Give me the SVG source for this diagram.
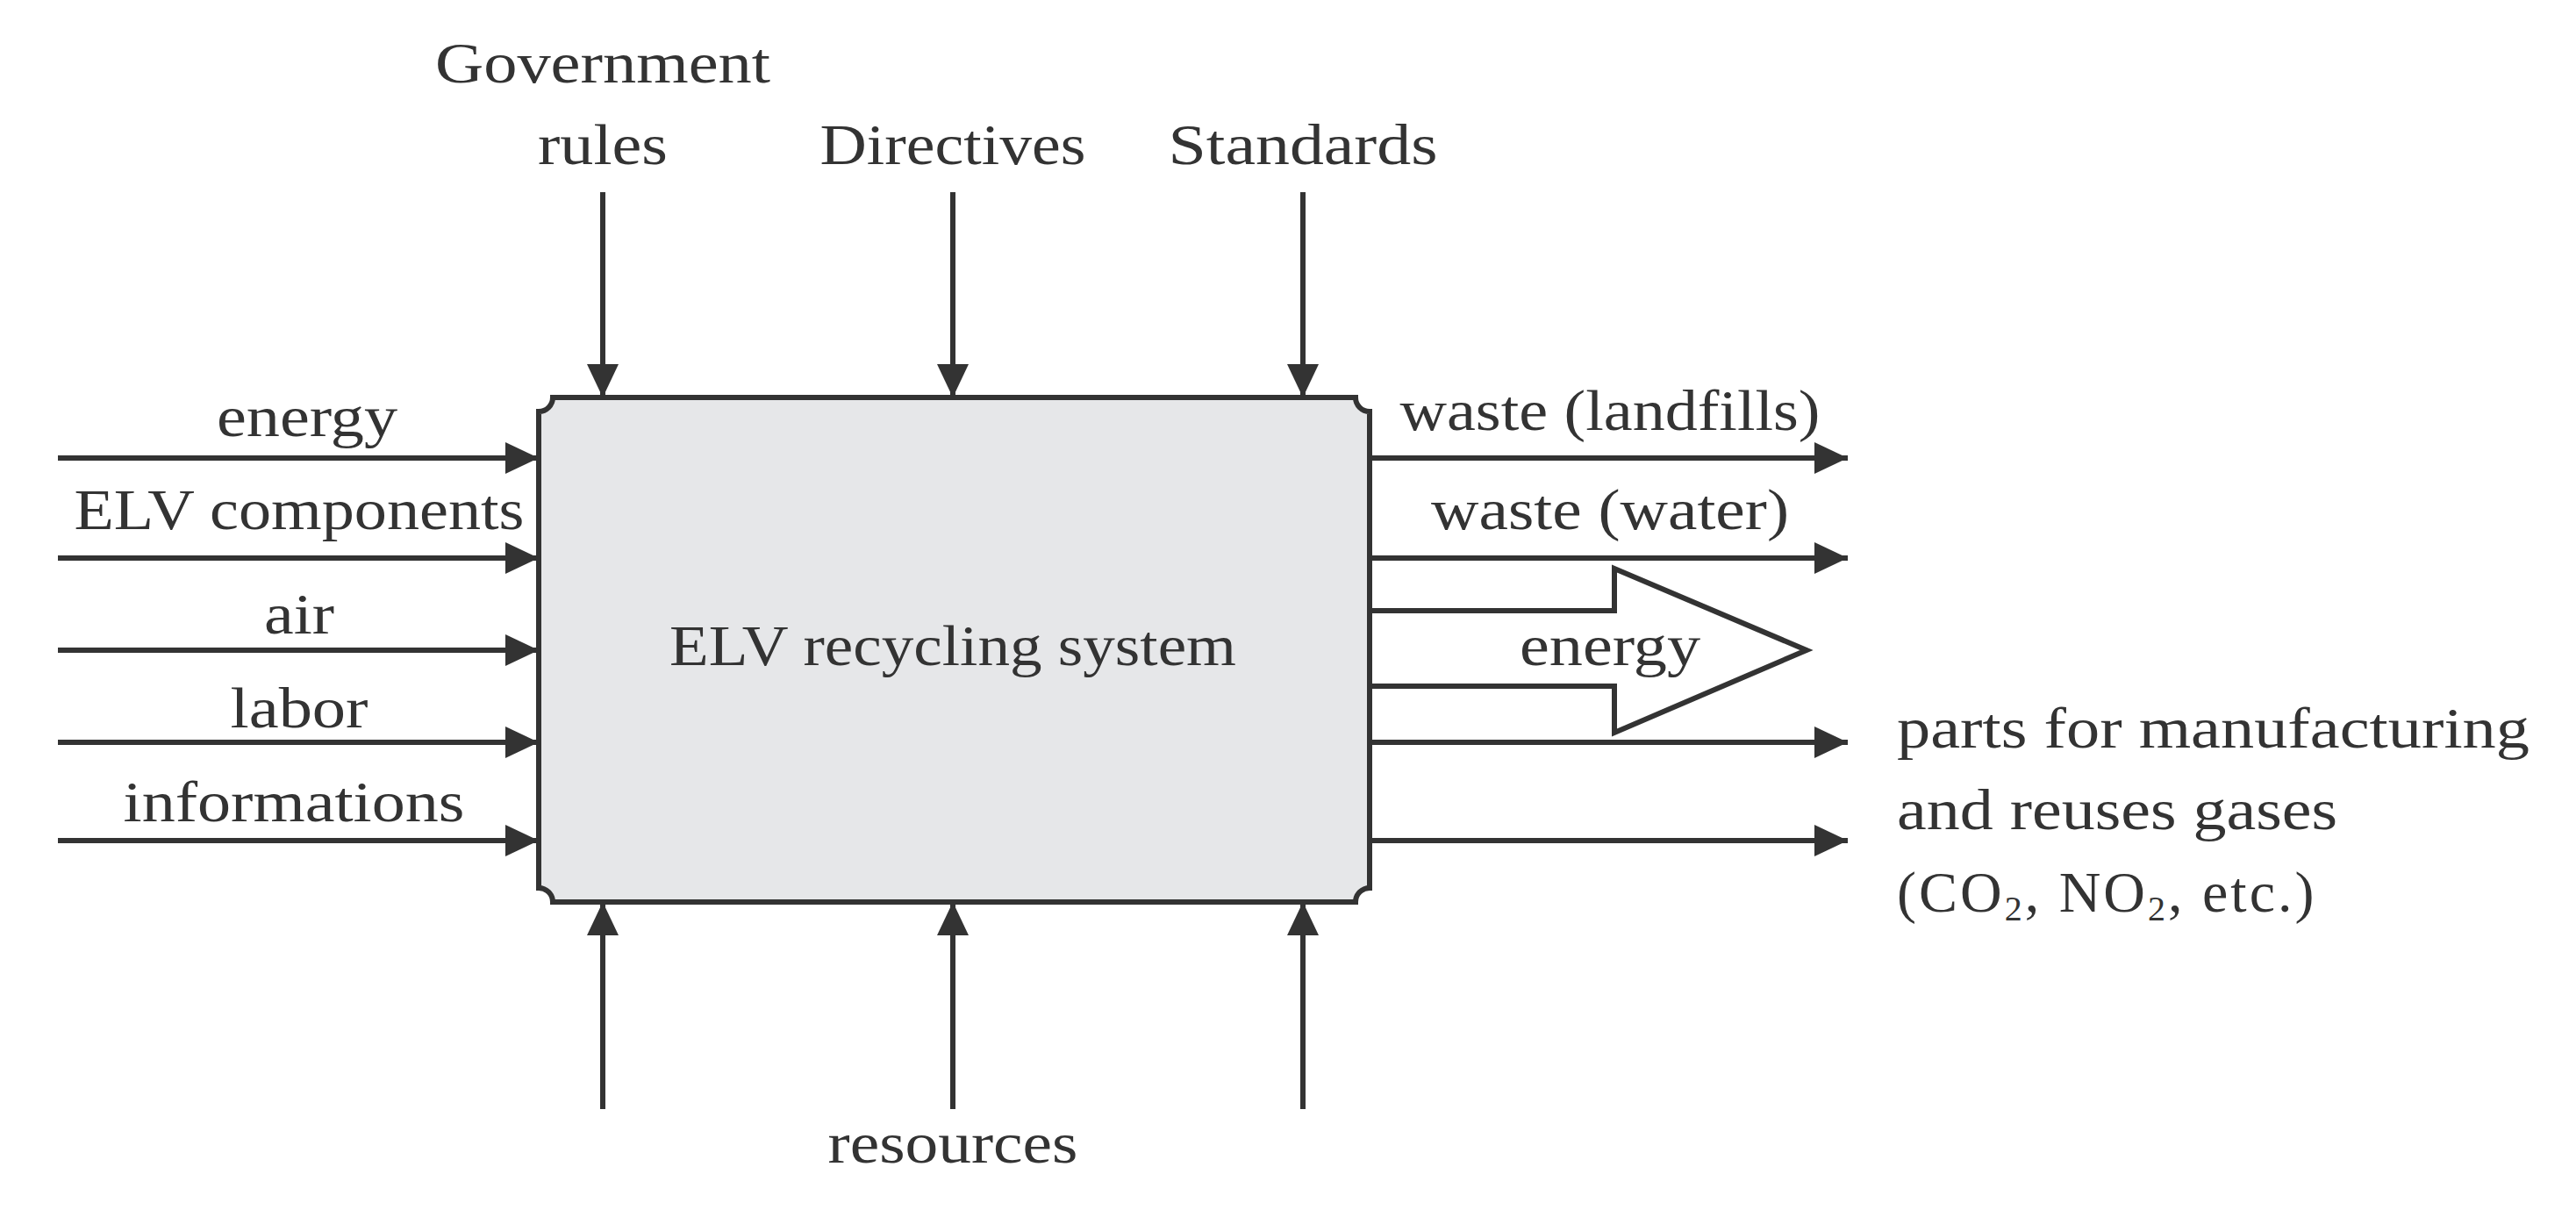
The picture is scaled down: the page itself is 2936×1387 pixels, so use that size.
<svg xmlns="http://www.w3.org/2000/svg" width="2936" height="1387" viewBox="0 0 2936 1387">
<style>
text{font-family:"Liberation Serif","DejaVu Serif",serif;font-size:66px;fill:#333}
.c{text-anchor:middle}
.ln{stroke:#333;stroke-width:6;fill:none}
</style>
<defs>
<marker id="ah" markerUnits="userSpaceOnUse" markerWidth="38" markerHeight="40" refX="38" refY="20" orient="auto"><path d="M0,2 L38,20 L0,38 Z" fill="#333"/></marker>
</defs>
<rect width="2936" height="1387" fill="#fff"/>
<g id="system">
<path d="M630,453 H1545 A16,16 0 0 0 1561,469 V1012 A16,16 0 0 0 1545,1028 H630 A16,16 0 0 0 614,1012 V469 A16,16 0 0 0 630,453 Z" fill="#e6e7e9" stroke="#333" stroke-width="6"/>
<text class="c" x="1086" y="758" textLength="646" lengthAdjust="spacingAndGlyphs">ELV recycling system</text>
</g>
<g id="connectors">
<line class="ln" x1="66" y1="522" x2="614" y2="522" marker-end="url(#ah)"/>
<line class="ln" x1="66" y1="636" x2="614" y2="636" marker-end="url(#ah)"/>
<line class="ln" x1="66" y1="741" x2="614" y2="741" marker-end="url(#ah)"/>
<line class="ln" x1="66" y1="846" x2="614" y2="846" marker-end="url(#ah)"/>
<line class="ln" x1="66" y1="958" x2="614" y2="958" marker-end="url(#ah)"/>
<line class="ln" x1="687" y1="219" x2="687" y2="453" marker-end="url(#ah)"/>
<line class="ln" x1="1086" y1="219" x2="1086" y2="453" marker-end="url(#ah)"/>
<line class="ln" x1="1485" y1="219" x2="1485" y2="453" marker-end="url(#ah)"/>
<line class="ln" x1="687" y1="1264" x2="687" y2="1028" marker-end="url(#ah)"/>
<line class="ln" x1="1086" y1="1264" x2="1086" y2="1028" marker-end="url(#ah)"/>
<line class="ln" x1="1485" y1="1264" x2="1485" y2="1028" marker-end="url(#ah)"/>
<line class="ln" x1="1561" y1="522" x2="2106" y2="522" marker-end="url(#ah)"/>
<line class="ln" x1="1561" y1="636" x2="2106" y2="636" marker-end="url(#ah)"/>
<line class="ln" x1="1561" y1="846" x2="2106" y2="846" marker-end="url(#ah)"/>
<line class="ln" x1="1561" y1="958" x2="2106" y2="958" marker-end="url(#ah)"/>
<path class="ln" d="M1561,696 H1840 V648 L2059,741 L1840,835 V782 H1561" fill="#fff"/>
</g>
<g id="labels">
<text class="c" x="350" y="497" textLength="206" lengthAdjust="spacingAndGlyphs">energy</text>
<text class="c" x="341" y="603" textLength="513" lengthAdjust="spacingAndGlyphs">ELV components</text>
<text class="c" x="341" y="722" textLength="80" lengthAdjust="spacingAndGlyphs">air</text>
<text class="c" x="341" y="829" textLength="157" lengthAdjust="spacingAndGlyphs">labor</text>
<text class="c" x="335" y="936" textLength="389" lengthAdjust="spacingAndGlyphs">informations</text>
<text class="c" x="687" y="94" textLength="382" lengthAdjust="spacingAndGlyphs">Government</text>
<text class="c" x="687" y="187" textLength="148" lengthAdjust="spacingAndGlyphs">rules</text>
<text class="c" x="1086" y="187" textLength="303" lengthAdjust="spacingAndGlyphs">Directives</text>
<text class="c" x="1485" y="187" textLength="307" lengthAdjust="spacingAndGlyphs">Standards</text>
<text class="c" x="1086" y="1325" textLength="285" lengthAdjust="spacingAndGlyphs">resources</text>
<text class="c" x="1835" y="490" textLength="479" lengthAdjust="spacingAndGlyphs">waste (landfills)</text>
<text class="c" x="1835" y="603" textLength="408" lengthAdjust="spacingAndGlyphs">waste (water)</text>
<text class="c" x="1835" y="758" textLength="206" lengthAdjust="spacingAndGlyphs">energy</text>
<text x="2162" y="852" textLength="721" lengthAdjust="spacingAndGlyphs">parts for manufacturing</text>
<text x="2162" y="945" textLength="502" lengthAdjust="spacingAndGlyphs">and reuses gases</text>
<text x="2162" y="1039" letter-spacing="3">(CO<tspan font-size="40" dy="10">2</tspan><tspan dy="-10">, NO</tspan><tspan font-size="40" dy="10">2</tspan><tspan dy="-10">, etc.)</tspan></text>
</g>
</svg>
